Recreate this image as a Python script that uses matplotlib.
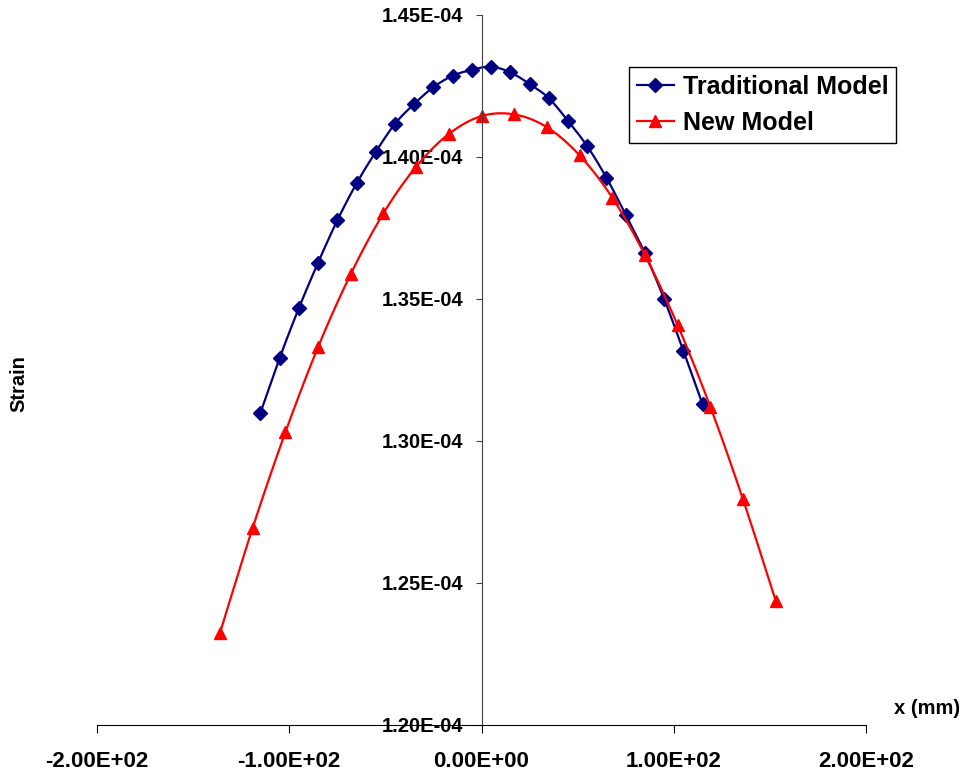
import numpy as np
import matplotlib
matplotlib.use("Agg")
import matplotlib.pyplot as plt
from matplotlib.ticker import FuncFormatter, MultipleLocator

plt.rcParams['font.family'] = ['Liberation Sans', 'DejaVu Sans']
plt.rcParams['font.weight'] = 'bold'

# data (x in mm, strain)
trad_x = [-115, -105, -95, -85, -75, -65, -55, -45, -35, -25, -15, -5,
          5, 15, 25, 35, 45, 55, 65, 75, 85, 95, 105, 115]
trad_y = [1.3099e-4, 1.3292e-4, 1.3468e-4, 1.3628e-4, 1.3777e-4, 1.3907e-4,
          1.4018e-4, 1.4117e-4, 1.4187e-4, 1.4246e-4, 1.4286e-4, 1.4307e-4,
          1.4318e-4, 1.4298e-4, 1.4257e-4, 1.4207e-4, 1.4127e-4, 1.4038e-4,
          1.3927e-4, 1.3797e-4, 1.3661e-4, 1.3500e-4, 1.3318e-4, 1.3129e-4]

new_x = [-136, -119, -102, -85, -68, -51, -34, -17, 0,
         17, 34, 51, 68, 85, 102, 119, 136, 153]
new_y = [1.2325e-4, 1.2695e-4, 1.3031e-4, 1.3331e-4, 1.3588e-4, 1.3802e-4,
         1.3966e-4, 1.4081e-4, 1.4144e-4, 1.4150e-4, 1.4105e-4, 1.4006e-4,
         1.3857e-4, 1.3655e-4, 1.3408e-4, 1.3121e-4, 1.2795e-4, 1.2438e-4]


# excel-like smoothed line (catmull-rom through the points)
def smooth(xs, ys, n=20):
    p = np.column_stack([xs, ys]).astype(float)
    p = np.vstack([p[0], p, p[-1]])
    out = []
    t = np.linspace(0, 1, n, endpoint=False)[:, None]
    for i in range(1, len(p) - 2):
        p0, p1, p2, p3 = p[i - 1], p[i], p[i + 1], p[i + 2]
        seg = 0.5 * ((2 * p1) + (-p0 + p2) * t + (2 * p0 - 5 * p1 + 4 * p2 - p3) * t ** 2
                     + (-p0 + 3 * p1 - 3 * p2 + p3) * t ** 3)
        out.append(seg)
    out.append(p[-2][None, :])
    out = np.vstack(out)
    return out[:, 0], out[:, 1]


fig = plt.figure(figsize=(9.66, 7.78), dpi=100)
ax = fig.add_axes([97 / 966, 53 / 778, 769 / 966, 710 / 778])

navy = '#000080'
red = '#ff0000'

sx, sy = smooth(trad_x, trad_y)
ax.plot(sx, sy, color=navy, lw=1.6)
ax.plot(trad_x, trad_y, ls='none', marker='D', ms=7, color=navy)
sx, sy = smooth(new_x, new_y)
ax.plot(sx, sy, color=red, lw=1.6)
ax.plot(new_x, new_y, ls='none', marker='^', ms=8.5, color=red)

# legend handles
ax.plot([], [], color=navy, lw=1.6, marker='D', ms=7, label='Traditional Model')
ax.plot([], [], color=red, lw=1.6, marker='^', ms=8.5, label='New Model')

ax.set_xlim(-200, 200)
ax.set_ylim(1.20e-4, 1.45e-4)
ax.xaxis.set_major_locator(MultipleLocator(100))
ax.yaxis.set_major_locator(MultipleLocator(0.05e-4))
fmt = FuncFormatter(lambda v, pos: f"{v:.2E}")
ax.xaxis.set_major_formatter(fmt)
ax.yaxis.set_major_formatter(fmt)

ax.spines['left'].set_position(('data', 0))
ax.spines['right'].set_visible(False)
ax.spines['top'].set_visible(False)
ax.spines['left'].set_color('#404040')
ax.spines['left'].set_linewidth(0.8)
ax.spines['bottom'].set_linewidth(0.8)

ax.tick_params(axis='y', direction='out', length=4, width=0.8, pad=9,
               labelsize=14.5, colors='#404040', labelcolor='black')
ax.tick_params(axis='x', direction='out', length=6, width=0.8, pad=13,
               labelsize=16)
for lab in ax.get_xticklabels() + ax.get_yticklabels():
    lab.set_fontweight('bold')

fig.text(19 / 966, 1 - 384 / 778, 'Strain', rotation=90, ha='center', va='center',
         fontsize=14.5, fontweight='bold')
fig.text(960 / 966, 1 - 709 / 778, 'x (mm)', ha='right', va='center',
         fontsize=14.5, fontweight='bold')

leg = ax.legend(loc='upper left', bbox_to_anchor=(629 / 966, 1 - 67 / 778),
                bbox_transform=fig.transFigure, borderaxespad=0, fancybox=False,
                framealpha=1, edgecolor='black', fontsize=18, handlelength=1.5,
                handletextpad=0.36, labelspacing=0.5, borderpad=0.3)
leg.get_frame().set_linewidth(1.0)
for t in leg.get_texts():
    t.set_fontweight('bold')

fig.savefig('out.png', dpi=100)
